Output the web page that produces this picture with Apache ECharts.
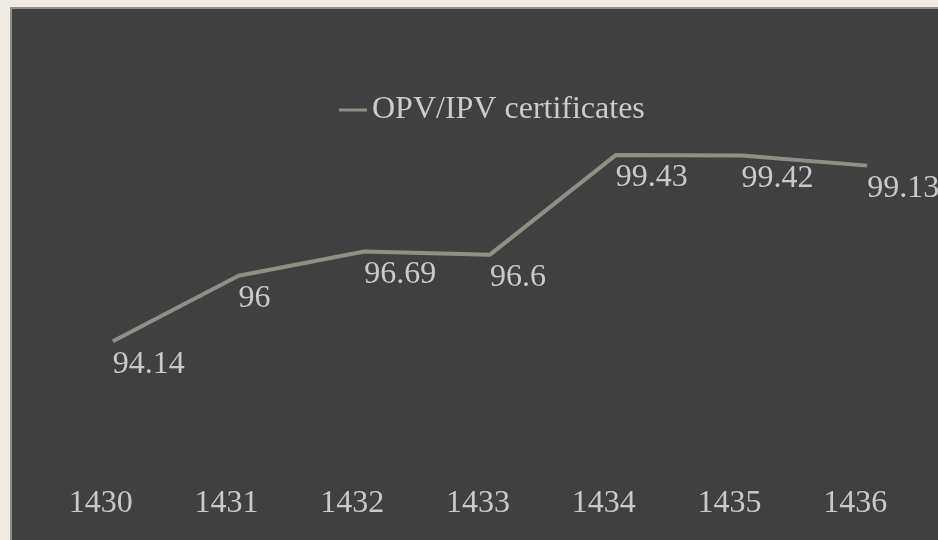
<!DOCTYPE html>
<html lang="en">
<head>
    <meta charset="UTF-8">
    <title>OPV/IPV certificates</title>
    <style>
        *{ margin: 0; padding: 0; }
        #chart{ width: 938px; height: 540px; }
    </style>
    <script src="https://cdn.jsdelivr.net/npm/echarts@6/dist/echarts.min.js"></script>
</head>
<body>
    <div id="chart"></div>
    <script>
        // years (hijri) and percentage values
        var years = ['1430', '1431', '1432', '1433', '1434', '1435', '1436'];
        var certs = [94.14, 96, 96.69, 96.6, 99.43, 99.42, 99.13];
        var seriesName = 'OPV/IPV certificates';

        var font = 'Liberation Serif';
        var lineColor = '#8f9085';
        var myChart = echarts.init(document.getElementById('chart'));

        var option = {
            backgroundColor: '#efebe3',
            animation: false,
            graphic: [{
                type: 'rect',
                z: -10,
                silent: true,
                shape: { x: 11, y: 8, width: 940, height: 540 },
                style: { fill: '#404040', stroke: '#8d8d8a', lineWidth: 2 }
            }],
            legend: {
                left: 334,
                top: 89,
                itemWidth: 28,
                itemHeight: 3,
                icon: 'rect',
                itemStyle: { color: lineColor, opacity: 1 },
                textStyle: { color: '#cccccc', fontFamily: font, fontSize: 32 },
                data: [seriesName]
            },
            grid: { left: 50, right: 8, top: 135, bottom: 53 },
            xAxis: {
                type: 'category',
                data: years,
                axisLine: { show: false },
                axisTick: { show: false },
                axisLabel: {
                    color: '#c9c9c9', fontFamily: font, fontSize: 32,
                    margin: 1, padding: [0, 24, 0, 0]
                }
            },
            yAxis: {
                type: 'value',
                min: 90,
                max: 100,
                show: false
            },
            series: [{
                name: seriesName,
                type: 'line',
                data: certs,
                symbol: 'circle',
                symbolSize: 2,
                showSymbol: true,
                itemStyle: { color: 'rgba(0,0,0,0)' },
                lineStyle: { color: lineColor, width: 4 },
                label: {
                    show: true,
                    position: 'bottom',
                    align: 'left',
                    distance: 6,
                    color: '#c9c9c9',
                    fontFamily: font,
                    fontSize: 32
                }
            }]
        };
        myChart.setOption(option);
    </script>
</body>
</html>
